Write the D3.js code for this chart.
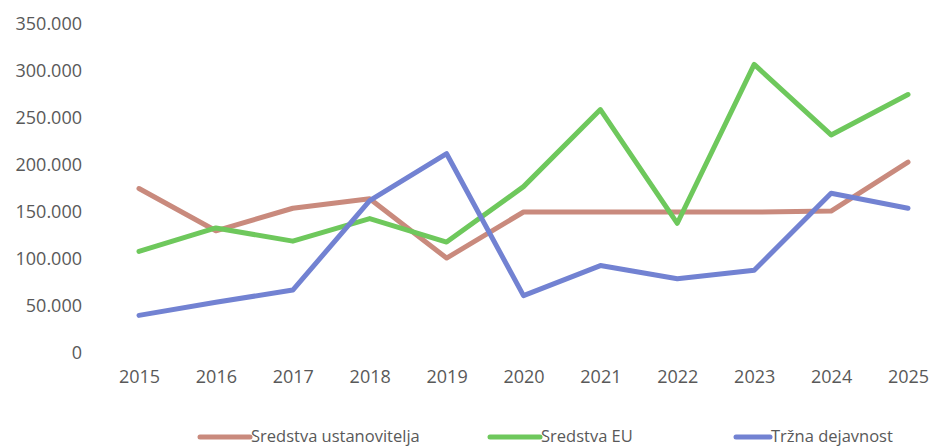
<!DOCTYPE html>
<html>
<head>
<meta charset="utf-8">
<script src="https://cdn.jsdelivr.net/npm/d3@7"></script>
<style>
  html, body { margin: 0; padding: 0; background: #fff; overflow: hidden; }
  svg { display: block; font-family: "Open Sans", sans-serif; }
</style>
</head>
<body>
<div id="root"></div>
<script>
// years on the x axis
const years = ['2015', '2016', '2017', '2018', '2019', '2020', '2021', '2022', '2023', '2024', '2025'];

// values
const ustanovitelja = [175000, 130000, 154000, 164000, 101000, 150000, 150000, 150000, 150000, 151000, 203000];
const sredstvaEU = [108000, 133000, 119000, 143000, 118000, 177000, 259000, 138000, 307000, 232000, 275000];
const trzna = [40000, 54000, 67000, 162000, 212000, 61000, 93000, 79000, 88000, 170000, 154000];

const yTicks = [0, 50000, 100000, 150000, 200000, 250000, 300000, 350000];

const series = [
  { name: 'Sredstva ustanovitelja', values: ustanovitelja, color: '#c98a7d' },
  { name: 'Sredstva EU', values: sredstvaEU, color: '#6ec85c' },
  { name: 'Tržna dejavnost', values: trzna, color: '#7282d2' },
];

const width = 932;
const height = 448;

const svg = d3.select('#root')
  .append('svg')
  .attr('width', width)
  .attr('height', height);

const x = d3.scalePoint()
  .domain(years)
  .range([139, 908]);

const y = d3.scaleLinear()
  .domain([0, 350000])
  .range([353, 24]);

const locale = d3.formatLocale({ decimal: ',', thousands: '.', grouping: [3], currency: ['', ''] });
const fmt = locale.format(',');

// y axis labels (no axis line)
const yAxis = svg.append('g')
  .attr('transform', 'translate(82,0)')
  .call(d3.axisLeft(y).tickValues(yTicks).tickFormat(fmt).tickSize(0).tickPadding(0));
yAxis.select('.domain').remove();
yAxis.selectAll('text')
  .attr('font-size', 18)
  .attr('font-family', '"Open Sans", sans-serif')
  .attr('fill', '#595959');

// x axis labels
const xAxis = svg.append('g')
  .attr('transform', 'translate(0,370)')
  .call(d3.axisBottom(x).tickSize(0).tickPadding(0));
xAxis.select('.domain').remove();
xAxis.selectAll('text')
  .attr('font-size', 18)
  .attr('font-family', '"Open Sans", sans-serif')
  .attr('fill', '#595959');

const line = d3.line()
  .x((d, i) => x(years[i]))
  .y(d => y(d));

svg.selectAll('path.series')
  .data(series)
  .enter()
  .append('path')
  .attr('class', 'series')
  .attr('d', d => line(d.values))
  .attr('fill', 'none')
  .attr('stroke', d => d.color)
  .attr('stroke-width', 5)
  .attr('stroke-linejoin', 'round')
  .attr('stroke-linecap', 'round');

// legend
const legendX = [200, 490, 736];
const legend = svg.selectAll('g.legend')
  .data(series)
  .enter()
  .append('g')
  .attr('class', 'legend')
  .attr('transform', (d, i) => `translate(${legendX[i]},437)`);

legend.append('line')
  .attr('x1', 0)
  .attr('x2', (d, i) => i === 2 ? 34 : 50)
  .attr('y1', 0)
  .attr('y2', 0)
  .attr('stroke', d => d.color)
  .attr('stroke-width', 5)
  .attr('stroke-linecap', 'round');

legend.append('text')
  .attr('x', (d, i) => i === 2 ? 35 : 51)
  .attr('y', 5)
  .attr('font-size', 16.5)
  .attr('fill', '#595959')
  .text(d => d.name);
</script>
</body>
</html>
